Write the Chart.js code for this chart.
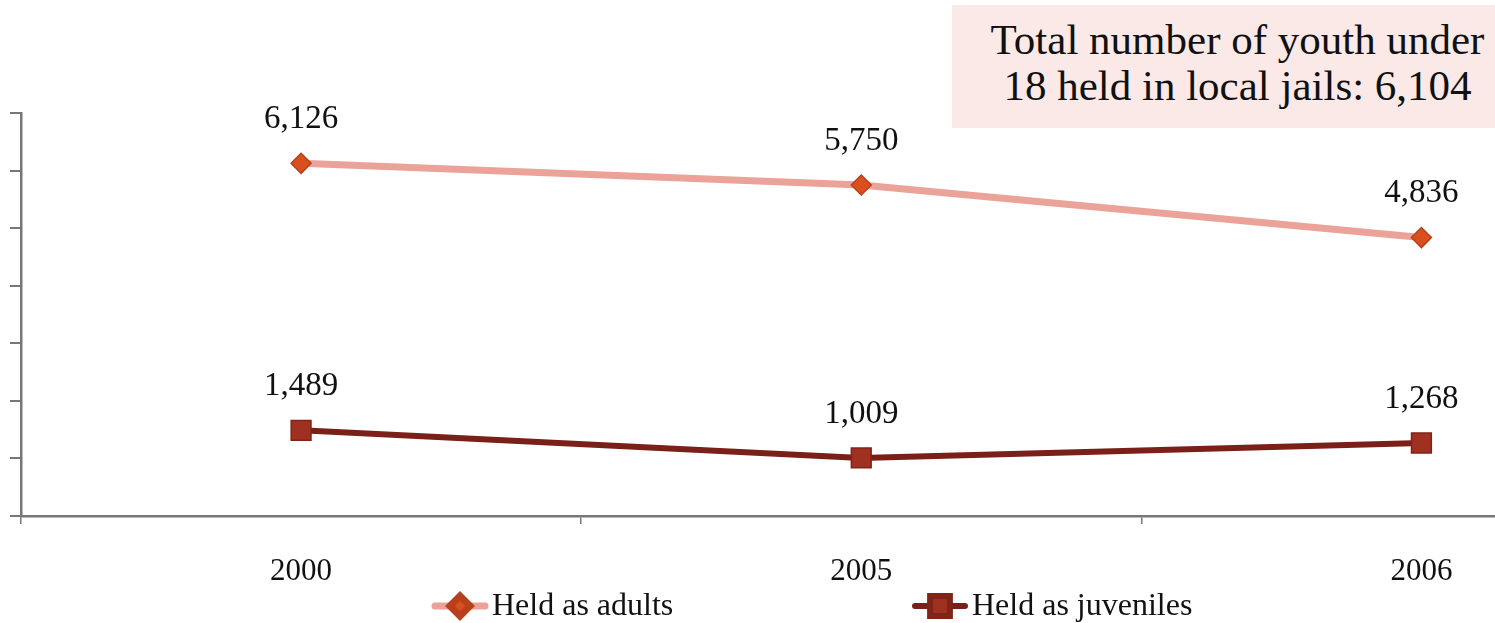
<!DOCTYPE html>
<html>
<head>
<meta charset="utf-8">
<script src="https://cdn.jsdelivr.net/npm/chart.js@4.4.1/dist/chart.umd.min.js"></script>
<style>
  html, body { margin: 0; padding: 0; background: #fff; overflow: hidden; width: 1495px; height: 623px; }
  #wrap { position: absolute; left: 0; top: 0; width: 1717px; height: 623px; }
  #note {
    position: absolute; left: 952px; top: 5px; width: 515px;
    padding-left: 28px; padding-top: 12px; height: 111px;
    background: #FBE9E7; text-align: center;
    font-family: "Liberation Serif", serif; font-size: 43px; line-height: 46px; color: #111;
  }
</style>
</head>
<body>
<div id="wrap"><canvas id="c" width="1717" height="623"></canvas></div>
<div id="note">Total number of youth under<br>18 held in local jails: 6,104</div>
<script>
const categories = ["2000", "2005", "2006"];
const heldAsAdults = [6126, 5750, 4836];
const heldAsJuveniles = [1489, 1009, 1268];
const yTicks = [0, 1000, 2000, 3000, 4000, 5000, 6000, 7000];
const seriesNames = ["Held as adults", "Held as juveniles"];

const FONT = '"Liberation Serif", serif';

const dataLabels = {
  id: 'dataLabels',
  afterDatasetsDraw(chart) {
    const ctx = chart.ctx;
    ctx.save();
    ctx.font = '33px ' + FONT;
    ctx.fillStyle = '#111';
    ctx.textAlign = 'center';
    ctx.textBaseline = 'middle';
    chart.data.datasets.forEach((ds, i) => {
      const meta = chart.getDatasetMeta(i);
      meta.data.forEach((pt, j) => {
        ctx.fillText(ds.data[j].toLocaleString('en-US'), pt.x, pt.y - 44);
      });
    });
    ctx.restore();
  }
};

const customLegend = {
  id: 'customLegend',
  afterDraw(chart, args, opts) {
    const ctx = chart.ctx;
    const y = opts.y;
    chart.data.datasets.forEach((ds, i) => {
      const x0 = opts.starts[i];
      ctx.save();
      ctx.strokeStyle = ds.borderColor;
      ctx.lineWidth = ds.borderWidth;
      ctx.lineCap = 'round';
      ctx.beginPath();
      ctx.moveTo(x0 + 3, y);
      ctx.lineTo(x0 + 53, y);
      ctx.stroke();
      ctx.fillStyle = ds.pointBackgroundColor;
      ctx.strokeStyle = ds.pointBorderColor;
      Chart.helpers.drawPoint(ctx, {
        pointStyle: ds.pointStyle, radius: ds.pointRadius,
        borderWidth: ds.pointBorderWidth, rotation: 0
      }, x0 + 28, y);
      ctx.fillStyle = '#111';
      ctx.font = '32px ' + FONT;
      ctx.textAlign = 'left';
      ctx.textBaseline = 'middle';
      ctx.fillText(ds.label, x0 + 60, y + 1);
      ctx.restore();
    });
  }
};

new Chart(document.getElementById('c'), {
  type: 'line',
  data: {
    labels: categories,
    datasets: [
      {
        label: seriesNames[0], data: heldAsAdults,
        borderColor: '#EBA298', borderWidth: 7,
        pointStyle: 'rectRot', pointRadius: 10,
        pointBackgroundColor: '#D9501E', pointBorderColor: '#B8401A', pointBorderWidth: 1.5,
        tension: 0
      },
      {
        label: seriesNames[1], data: heldAsJuveniles,
        borderColor: '#7A2018', borderWidth: 6,
        pointStyle: 'rect', pointRadius: 14,
        pointBackgroundColor: '#A0301F', pointBorderColor: '#7F2417', pointBorderWidth: 1.5,
        tension: 0
      }
    ]
  },
  options: {
    responsive: false,
    animation: false,
    events: [],
    layout: { padding: { top: 113, left: 0, right: 1, bottom: 0 } },
    plugins: {
      legend: { display: false },
      tooltip: { enabled: false },
      customLegend: { y: 606, starts: [432, 912] }
    },
    scales: {
      x: {
        type: 'category',
        offset: true,
        grid: { offset: true, drawOnChartArea: false, drawTicks: true, tickLength: 8, color: '#777', lineWidth: 1.5 },
        border: { color: '#777', width: 2.5 },
        ticks: { color: '#111', font: { family: FONT, size: 31 }, padding: 29, maxRotation: 0 },
        afterFit(scale) { scale.height = 107; }
      },
      y: {
        min: 0, max: 7000,
        afterBuildTicks(scale) { scale.ticks = yTicks.map(v => ({ value: v })); },
        grid: { drawOnChartArea: false, drawTicks: true, tickLength: 11, color: '#777', lineWidth: 2 },
        border: { color: '#777', width: 2.5 },
        ticks: { display: false },
        afterFit(scale) { scale.width = 21; }
      }
    }
  },
  plugins: [dataLabels, customLegend]
});
</script>
</body>
</html>
